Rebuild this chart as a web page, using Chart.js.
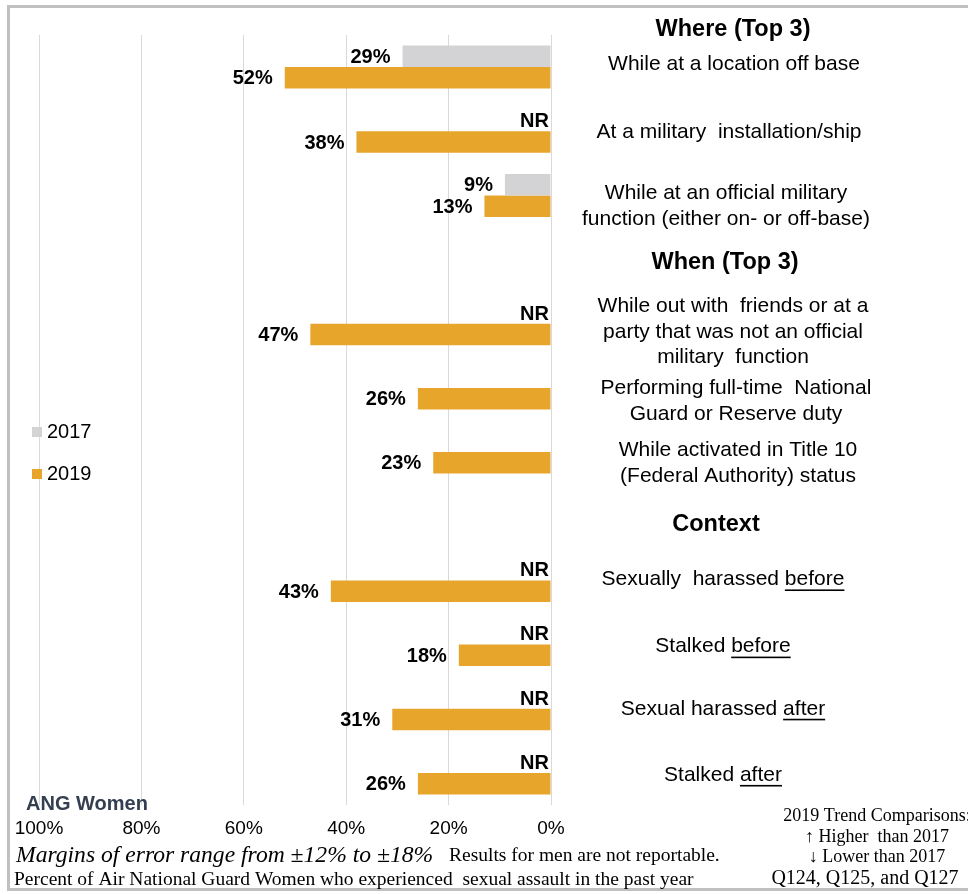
<!DOCTYPE html>
<html>
<head>
<meta charset="utf-8">
<script src="https://cdn.jsdelivr.net/npm/chart.js@4.4.0/dist/chart.umd.min.js"></script>
<style>
  body { margin: 0; background: #fff; }
  #wrap { position: relative; width: 968px; height: 894px; overflow: hidden; }
  #frame { position: absolute; left: 7px; top: 5px; width: 1000px; height: 880px; border: 3px solid #c0c0c0; }
  canvas { position: absolute; left: 0; top: 0; }
</style>
</head>
<body>
<div id="wrap">
  <div id="frame"></div>
  <canvas id="chart" width="968" height="894"></canvas>
</div>
<script>
// rows of the chart, top to bottom (header rows have no bars)
const categories = [
    ['While at a location off base'],
    ['At a military  installation/ship'],
    ['While at an official military', 'function (either on- or off-base)'],
    ['When (Top 3)'],
    ['While out with  friends or at a', 'party that was not an official', 'military  function'],
    ['Performing full-time  National', 'Guard or Reserve duty'],
    ['While activated in Title 10', '(Federal Authority) status'],
    ['Context'],
    ['Sexually  harassed before'],
    ['Stalked before'],
    ['Sexual harassed after'],
    ['Stalked after']
]
const headerRows = [false, false, false, true, false, false, false, true, false, false, false, false]
const underlined = [null, null, null, null, null, null, null, null, 'before', 'before', 'after', 'after']
const topHeader = 'Where (Top 3)'

const seriesNames = ['2017', '2019']
const values2017 = [29, null, 9, null, null, null, null, null, null, null, null, null]
const values2019 = [52, 38, 13, null, 47, 26, 23, null, 43, 18, 31, 26]
const notes2017 = ['', 'NR', '', '', 'NR', '', '', '', 'NR', 'NR', 'NR', 'NR']

const xTicks = [0, 20, 40, 60, 80, 100]

const colors = { y2017: '#d3d3d5', y2019: '#e7a52c' }
const sansFont = '"Liberation Sans", Arial, sans-serif'
const serifFont = '"Liberation Serif", "Times New Roman", serif'

function text(ctx, str, x, y, font, color, align) {
    ctx.font = font
    ctx.fillStyle = color
    ctx.textAlign = align || 'left'
    ctx.textBaseline = 'middle'
    ctx.fillText(str, x, y)
}

function drawLines(ctx, lines, cx, cy, font, lineH, underline) {
    ctx.font = font
    ctx.fillStyle = '#000'
    ctx.textAlign = 'center'
    ctx.textBaseline = 'middle'
    let top = cy - (lines.length - 1) * lineH / 2
    lines.forEach((ln, k) => {
        let ly = top + k * lineH
        ctx.fillText(ln, cx, ly)
        if (underline && ln.endsWith(underline)) {
            let w = ctx.measureText(ln).width
            let uw = ctx.measureText(underline).width
            ctx.fillRect(cx + w / 2 - uw, ly + 10, uw, 1.6)
        }
    })
}

// text box placement of the right hand labels (like the text boxes of the original slide)
const labelDy = [-3, 1, 11, 3, 8, 13.5, 11, 8, -1, 2, 0, 2]
const labelX = [734, 729, 726, 725, 733, 736, 738, 716, 723, 723, 723, 723]

const extras = {
    id: 'extras',
    afterDraw(chart) {
        const ctx = chart.ctx
        const xs = chart.scales.x
        const ys = chart.scales.y
        const area = chart.chartArea
        ctx.save()

        // value labels at the end of each bar
        chart.data.datasets.forEach((ds, di) => {
            let meta = chart.getDatasetMeta(di)
            meta.data.forEach((bar, i) => {
                if (ds.data[i] == null) return
                text(ctx, ds.data[i] + '%', bar.x - 12, bar.y + 1, 'bold 20px ' + sansFont, '#000', 'right')
            })
        })

        // NR marks where 2017 was not reportable
        let step = ys.getPixelForValue(1) - ys.getPixelForValue(0)
        let barH = step * 0.67 / 2
        notes2017.forEach((n, i) => {
            if (!n) return
            text(ctx, n, xs.getPixelForValue(0) - 2, ys.getPixelForValue(i) - barH / 2 + 1, 'bold 20px ' + sansFont, '#000', 'right')
        })

        // right hand labels
        drawLines(ctx, [topHeader], 733, area.top - 5, 'bold 23.5px ' + sansFont, 25)
        categories.forEach((lines, i) => {
            let cy = ys.getPixelForValue(i) + labelDy[i]
            if (headerRows[i]) {
                drawLines(ctx, lines, labelX[i], cy, 'bold 23.5px ' + sansFont, 25)
            } else {
                drawLines(ctx, lines, labelX[i], cy, '21px ' + sansFont, 25.5, underlined[i])
            }
        })

        // legend
        let legendY = [432, 474]
        let legendC = [colors.y2017, colors.y2019]
        seriesNames.forEach((s, k) => {
            ctx.fillStyle = legendC[k]
            ctx.fillRect(32, legendY[k] - 5, 10, 10)
            text(ctx, s, 47, legendY[k], '20px ' + sansFont, '#000')
        })

        // footer texts
        text(ctx, 'ANG Women', 26, 804, 'bold 20px ' + sansFont, '#333f50')
        text(ctx, 'Margins of error range from \u00b112% to \u00b118%', 16, 856, 'italic 23.6px ' + serifFont, '#000')
        text(ctx, 'Results for men are not reportable.', 449, 856, '19.5px ' + serifFont, '#000')
        text(ctx, 'Percent of Air National Guard Women who experienced  sexual assault in the past year', 14, 880, '19.5px ' + serifFont, '#000')
        text(ctx, '2019 Trend Comparisons:', 877, 816, '18px ' + serifFont, '#000', 'center')
        text(ctx, '\u2191 Higher  than 2017', 877, 837, '18px ' + serifFont, '#000', 'center')
        text(ctx, '\u2193 Lower than 2017', 877, 857, '18px ' + serifFont, '#000', 'center')
        text(ctx, 'Q124, Q125, and Q127', 865, 879, '20px ' + serifFont, '#000', 'center')

        ctx.restore()
    }
}

const config = {
    type: 'bar',
    data: {
        labels: categories,
        datasets: [
            { label: seriesNames[0], data: values2017, backgroundColor: colors.y2017 },
            { label: seriesNames[1], data: values2019, backgroundColor: colors.y2019 }
        ]
    },
    options: {
        indexAxis: 'y',
        responsive: false,
        animation: false,
        categoryPercentage: 0.67,
        barPercentage: 1,
        layout: { padding: { left: 39, right: 417, top: 35, bottom: 49 } },
        plugins: {
            legend: { display: false },
            tooltip: { enabled: false }
        },
        scales: {
            x: {
                reverse: true,
                min: 0,
                max: 100,
                afterBuildTicks: (s) => { s.ticks = xTicks.map(v => ({ value: v })) },
                afterFit: (s) => { s.height = 40 },
                grid: { color: '#d9d9d9', drawTicks: false },
                border: { display: false },
                ticks: {
                    padding: 12,
                    maxRotation: 0,
                    color: '#000',
                    font: { family: sansFont, size: 19 },
                    callback: (v) => v + '%'
                }
            },
            y: {
                display: false,
                offset: true
            }
        }
    },
    plugins: [extras]
}

window.myBar = new Chart(document.getElementById('chart').getContext('2d'), config)
</script>
</body>
</html>
